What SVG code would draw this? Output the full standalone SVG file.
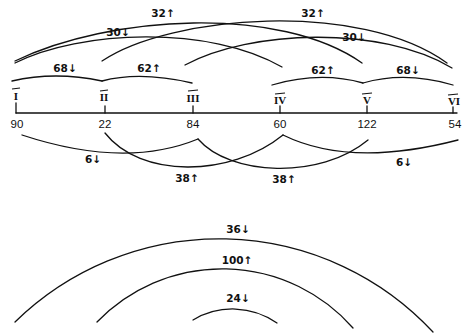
<svg xmlns="http://www.w3.org/2000/svg" width="472" height="334" viewBox="0 0 472 334">
<style>
.c{fill:none;stroke:#111;stroke-width:1.3;stroke-linecap:round}
.t{font-family:"DejaVu Sans","Liberation Sans",sans-serif;font-size:10.5px;fill:#111;text-anchor:middle;font-weight:bold}
.r{font-family:"Liberation Serif",serif;font-size:11px;fill:#111;text-anchor:middle;font-weight:bold}
.n{font-family:"Liberation Sans",sans-serif;font-size:11.5px;fill:#111;text-anchor:middle}
.o{stroke:#111;stroke-width:1.1}
</style>
<rect width="472" height="334" fill="#fff"/>
<g id="axis">
<line class="c" x1="16" y1="113" x2="457" y2="113"/>
</g>
<g id="n1"><line class="o" x1="12" y1="89" x2="20" y2="88"/><text class="r" x="16" y="100">I</text><line class="c" x1="16" y1="103" x2="16" y2="113"/><text class="n" x="17" y="128">90</text></g>
<g id="n2"><line class="o" x1="100" y1="91" x2="108" y2="90"/><text class="r" x="104" y="101">II</text><line class="c" x1="105" y1="106" x2="105" y2="113"/><text class="n" x="105" y="128">22</text></g>
<g id="n3"><line class="o" x1="188" y1="91" x2="198" y2="90"/><text class="r" x="193" y="102">III</text><line class="c" x1="193" y1="106" x2="193" y2="113"/><text class="n" x="193" y="128">84</text></g>
<g id="n4"><line class="o" x1="275" y1="94" x2="285" y2="93"/><text class="r" x="280" y="104">IV</text><line class="c" x1="280" y1="106" x2="280" y2="113"/><text class="n" x="280" y="128">60</text></g>
<g id="n5"><line class="o" x1="362" y1="94" x2="372" y2="93"/><text class="r" x="367" y="104">V</text><line class="c" x1="367" y1="106" x2="367" y2="113"/><text class="n" x="367" y="128">122</text></g>
<g id="n6"><line class="o" x1="448" y1="95" x2="458" y2="94"/><text class="r" x="454" y="105">VI</text><line class="c" x1="453" y1="107" x2="453" y2="113"/><text class="n" x="455" y="128">54</text></g>
<g id="connectors">
<path class="c" d="M15,61 C110,15 280,5 362,63"/>
<path class="c" d="M102,61 C170,15 360,0 447,63"/>
<path class="c" d="M15,63 C80,30 210,25 282,67"/>
<path class="c" d="M185,65 C250,30 380,25 452,68"/>
<path class="c" d="M12,81 Q55,71 102,81"/>
<path class="c" d="M102,81 Q140,71 192,83"/>
<path class="c" d="M272,85 Q320,71 363,83"/>
<path class="c" d="M363,83 Q405,71 453,85"/>
<path class="c" d="M22,135 Q125,169 198,139"/>
<path class="c" d="M105,133 C140,178 230,178 283,135"/>
<path class="c" d="M198,139 C230,176 320,180 368,140"/>
<path class="c" d="M283,135 Q350,168 458,140"/>
<path class="c" d="M15,322 A292,292 0 0 1 433,332"/>
<path class="c" d="M97,322 A174,174 0 0 1 353,328"/>
<path class="c" d="M193,320 A77,77 0 0 1 277,323"/>
</g>
<g id="labels">
<text class="t" x="163" y="17">32↑</text>
<text class="t" x="313" y="17">32↑</text>
<text class="t" x="118" y="36">30↓</text>
<text class="t" x="354" y="41">30↓</text>
<text class="t" x="65" y="72">68↓</text>
<text class="t" x="149" y="72">62↑</text>
<text class="t" x="323" y="74">62↑</text>
<text class="t" x="408" y="74">68↓</text>
<text class="t" x="93" y="163">6↓</text>
<text class="t" x="187" y="182">38↑</text>
<text class="t" x="284" y="183">38↑</text>
<text class="t" x="404" y="166">6↓</text>
<text class="t" x="238" y="233">36↓</text>
<text class="t" x="237" y="264">100↑</text>
<text class="t" x="238" y="302">24↓</text>
</g>
</svg>
